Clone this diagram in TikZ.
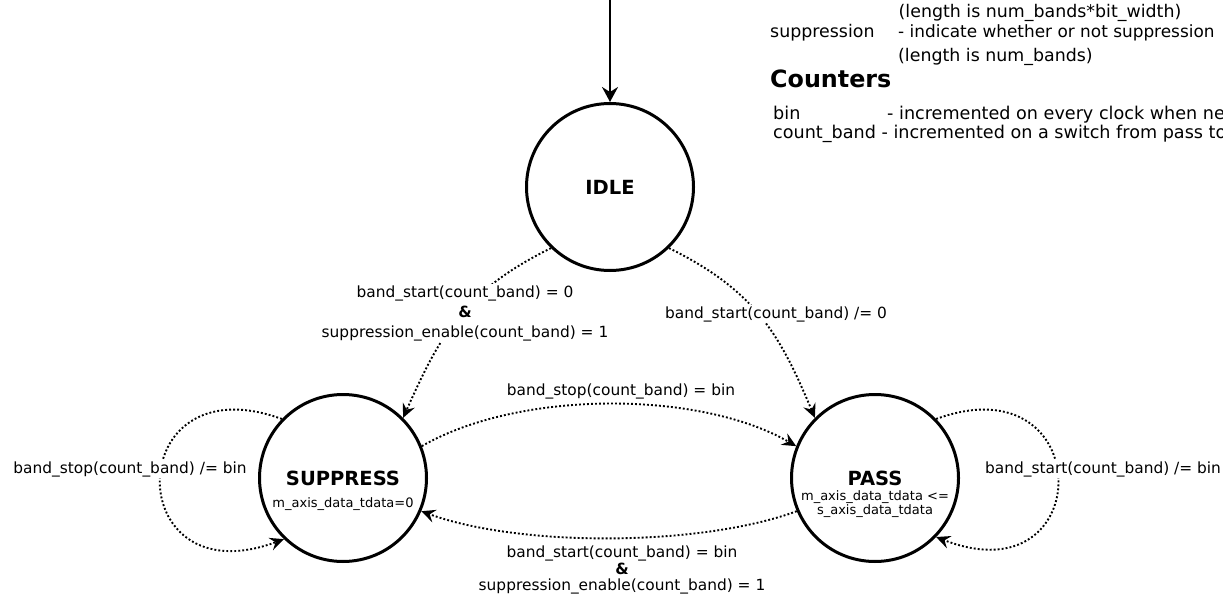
\documentclass[tikz,border=0pt]{standalone}
\usepackage{fontspec}
\setmainfont{DejaVu Sans}
\usetikzlibrary{arrows.meta}
\begin{document}
\begin{tikzpicture}[x=1pt,y=-1pt,
  state/.style={draw, circle, line width=3pt, minimum size=167pt, inner sep=0pt,
    font=\fontsize{19.5}{22}\selectfont\bfseries},
  trans/.style={line width=1.9pt, dash pattern=on 1.9pt off 2.1pt,
    -{Stealth[length=14pt,width=13pt,inset=5pt]}},
  initarrow/.style={line width=2pt, -{Stealth[length=15pt,width=16pt,inset=5pt]}},
  lbl/.style={font=\fontsize{15.4}{20}\selectfont, align=center, inner sep=1pt},
  sub/.style={font=\fontsize{13}{14}\selectfont, align=center, inner sep=0pt},
  info/.style={font=\fontsize{17.4}{20}\selectfont, anchor=base west, inner sep=0pt},
  infob/.style={font=\fontsize{17.6}{20}\selectfont, anchor=base west, inner sep=0pt},
]
\useasboundingbox (0,0) rectangle (1223,596);

% states
\node[state] (idle) at (610,187) {IDLE};
\node[state] (sup) at (343,478) {SUPPRESS};
\node[state] (pass) at (875,478) {PASS};
\node[sub, anchor=base] (supo) at (343,507) {m\_axis\_data\_tdata=0};
\node[sub] (passo) at (875,504) {m\_axis\_data\_tdata <=\\s\_axis\_data\_tdata};

% initial arrow
\coordinate (init) at (610,0);
\draw[initarrow] (init) -- (idle);

% transitions
\draw[trans] (idle.226) .. controls (464,291) and (440,335) .. (sup.45);
\draw[trans] (idle.314) .. controls (756,291) and (780,335) .. (pass.135);
\draw[trans] (sup.22) .. controls (519,390) and (699,390) .. (pass.158);
\draw[trans] (pass.203) .. controls (699,547) and (519,547) .. (sup.337);
\draw[trans] (sup.136) .. controls (120,360) and (120,600) .. (sup.226);
\draw[trans] (pass.44) .. controls (1098,360) and (1098,600) .. (pass.316);

% labels
\node[lbl, fill=white] (l1) at (465,313)
  {band\_start(count\_band) = 0\\\textbf{\&}\\suppression\_enable(count\_band) = 1};
\node[lbl, fill=white, anchor=base] (l2) at (776,318) {band\_start(count\_band) /= 0};
\node[lbl, anchor=base] (l3) at (621,395) {band\_stop(count\_band) = bin};
\node[lbl, font=\fontsize{15.4}{16.3}\selectfont] (l4) at (622,570)
  {band\_start(count\_band) = bin\\\textbf{\&}\\suppression\_enable(count\_band) = 1};
\node[lbl, fill=white, anchor=base] (l5) at (130,473) {band\_stop(count\_band) /= bin};
\node[lbl, fill=white, anchor=base] (l6) at (1103,473) {band\_start(count\_band) /= bin};

% legend text (cut at the right edge, as in the reference)
\begin{scope}
\clip (0,0) rectangle (1223,596);
\node[info] (t1) at (898.5,18) {(length is num\_bands*bit\_width)};
\node[info] (t2) at (770,38) {suppression};
\node[info, font=\fontsize{16.9}{20}\selectfont] (t3) at (898,38) {- indicate whether or not suppression};
\node[info] (t4) at (898,62) {(length is num\_bands)};
\node[info, font=\fontsize{23.8}{27}\selectfont\bfseries] (t5) at (770,88) {Counters};
\node[infob] (t6) at (773,120) {bin};
\node[infob] (t7) at (887,120) {- incremented on every clock when new};
\node[infob] (t8) at (773,139) {count\_band - incremented on a switch from pass to};
\end{scope}
\end{tikzpicture}
\end{document}
